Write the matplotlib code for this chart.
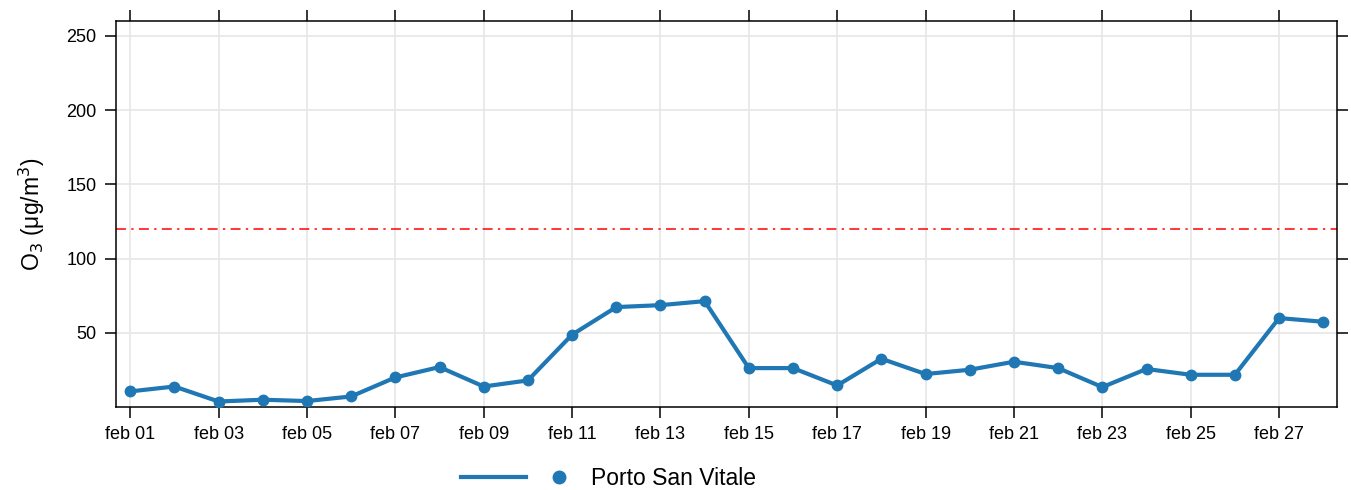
import matplotlib.pyplot as plt
from matplotlib.lines import Line2D

plt.rcParams['font.family'] = ['Liberation Sans', 'DejaVu Sans']

# daily O3 means, february
days = list(range(1, 29))
o3 = [10.5, 13.8, 3.7, 4.9, 4.0, 7.1, 19.9, 26.9, 13.8, 17.9, 48.7,
      67.3, 68.6, 71.3, 26.2, 26.2, 14.5, 32.5, 22.2, 25.1, 30.5,
      26.2, 13.4, 25.6, 21.7, 21.7, 59.9, 57.4]
tick_days = list(range(1, 29, 2))
tick_labels = ['feb %02d' % d for d in tick_days]
y_ticks = [50, 100, 150, 200, 250]
limit_value = 120
station = 'Porto San Vitale'

blue = '#1f77b4'

fig = plt.figure(figsize=(13.51, 4.9), dpi=100)
ax = fig.add_axes([0.0859, 0.1694, 0.9037, 0.7877])

ax.plot(days, o3, color=blue, linewidth=3, marker='o', markersize=7.5, zorder=3)
ax.axhline(limit_value, color='#ff0000', linestyle=(0, (6.5, 3.5, 1.5, 3.5)),
           linewidth=1.1, zorder=2)

ax.set_xlim(0.68, 28.31)
ax.set_ylim(0, 260)
ax.set_xticks(tick_days)
ax.set_xticklabels(tick_labels)
ax.set_yticks(y_ticks)
ax.grid(True, color='#e6e6e6', linewidth=1.2, zorder=0)
ax.set_axisbelow(True)

ax.tick_params(axis='both', direction='out', length=8, width=1.1, labelsize=13,
               top=True, right=True, labeltop=False, labelright=False, pad=6)
for s in ax.spines.values():
    s.set_linewidth(1.1)

ax.set_ylabel(r'O$_3$ ($\mathregular{\mu}$g/m$^3$)', fontsize=16.5, labelpad=14)

handles = [Line2D([], [], color=blue, linewidth=3),
           Line2D([], [], color=blue, linestyle='none', marker='o', markersize=9)]
fig.legend(handles, ['', station], loc='lower center', bbox_to_anchor=(0.4505, -0.043),
           ncol=2, frameon=False, fontsize=16.5, handlelength=2.85, columnspacing=0.0,
           handletextpad=0.0)

plt.savefig('out.png', dpi=100)
